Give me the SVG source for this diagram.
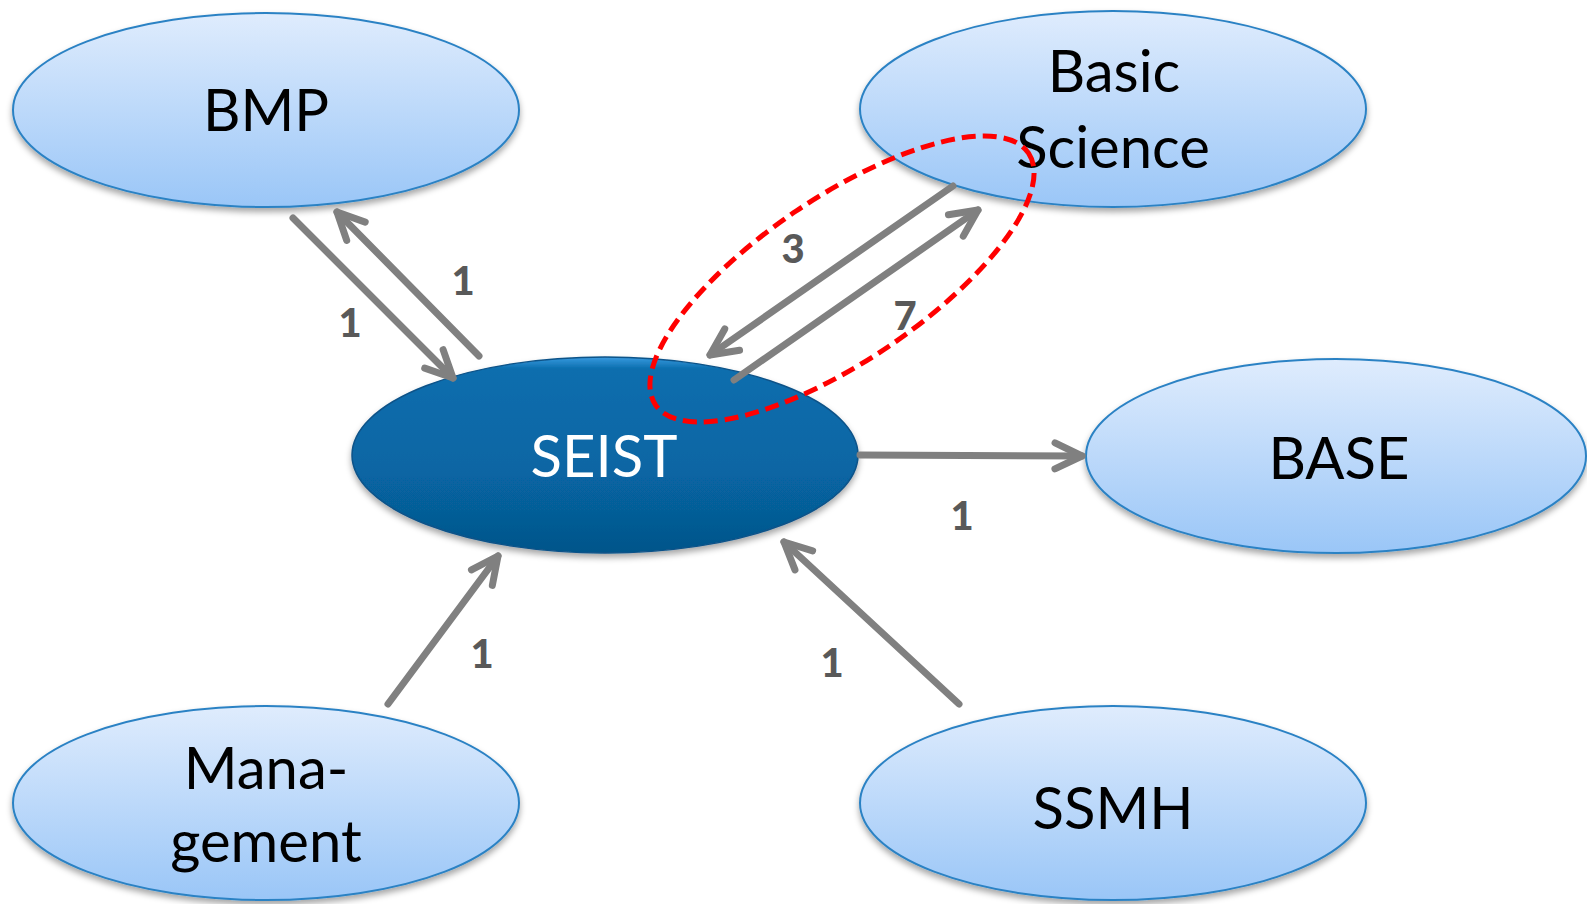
<svg xmlns="http://www.w3.org/2000/svg" width="1587" height="904" viewBox="0 0 1587 904">
<style>
.node{stroke:#2C82C4;stroke-width:2;fill:url(#light)}
.lbl{font-family:Lato,"Liberation Sans",sans-serif;font-size:58px;fill:#000;text-anchor:middle}
.num{font-family:Lato,"Liberation Sans",sans-serif;font-size:40px;font-weight:900;fill:#595959;text-anchor:middle}
.arr{stroke:#808080;stroke-width:7;fill:none;stroke-linecap:round;marker-end:url(#head)}
</style>
<defs>
<linearGradient id="light" x1="0" y1="0" x2="0" y2="1">
<stop offset="0" stop-color="#DFECFD"/>
<stop offset="1" stop-color="#9AC6F7"/>
</linearGradient>
<linearGradient id="dark" x1="0" y1="0" x2="0" y2="1">
<stop offset="0" stop-color="#3A9BE0"/>
<stop offset="0.06" stop-color="#0B6EAE"/>
<stop offset="0.6" stop-color="#0765A3"/>
<stop offset="1" stop-color="#05558A"/>
</linearGradient>
<filter id="sh" x="-10%" y="-10%" width="120%" height="130%">
<feDropShadow dx="0" dy="4" stdDeviation="3" flood-color="#000" flood-opacity="0.35"/>
</filter>
<marker id="head" markerUnits="userSpaceOnUse" viewBox="-40 -25 50 50" refX="0" refY="0" markerWidth="50" markerHeight="50" orient="auto" overflow="visible">
<path d="M-27 -13 L0 0 L-27 13" fill="none" stroke="#808080" stroke-width="7" stroke-linecap="round" stroke-linejoin="round"/>
</marker>
</defs>
<rect width="1587" height="904" fill="#fff"/>
<g id="bmp">
<ellipse class="node" cx="266" cy="110" rx="253" ry="97" filter="url(#sh)"/>
<text class="lbl" x="266" y="131">BMP</text>
</g>
<g id="basic-science">
<ellipse class="node" cx="1113" cy="109" rx="253" ry="98" filter="url(#sh)"/>
<text class="lbl" x="1114" y="92">Basic</text>
<text class="lbl" x="1113" y="168">Science</text>
</g>
<g id="seist">
<ellipse cx="605" cy="455" rx="253" ry="98" fill="url(#dark)" stroke="#0A5288" stroke-width="1.5" filter="url(#sh)"/>
<text class="lbl" x="604" y="477" style="fill:#fff">SEIST</text>
</g>
<g id="base">
<ellipse class="node" cx="1336" cy="456" rx="250" ry="97" filter="url(#sh)"/>
<text class="lbl" x="1339" y="479">BASE</text>
</g>
<g id="management">
<ellipse class="node" cx="266" cy="803" rx="253" ry="97" filter="url(#sh)"/>
<text class="lbl" x="266" y="789">Mana-</text>
<text class="lbl" x="266" y="862">gement</text>
</g>
<g id="ssmh">
<ellipse class="node" cx="1113" cy="803" rx="253" ry="97" filter="url(#sh)"/>
<text class="lbl" x="1113" y="829">SSMH</text>
</g>
<g id="connectors">
<line class="arr" x1="293" y1="218" x2="453" y2="378"/>
<line class="arr" x1="479" y1="356" x2="337" y2="212"/>
<line class="arr" x1="953" y1="186" x2="710" y2="355"/>
<line class="arr" x1="734" y1="380" x2="978" y2="210"/>
<line class="arr" x1="860" y1="455" x2="1082" y2="456"/>
<line class="arr" x1="388" y1="704" x2="498" y2="556"/>
<line class="arr" x1="959" y1="704" x2="784" y2="542"/>
<text class="num" x="350" y="337">1</text>
<text class="num" x="463" y="295">1</text>
<text class="num" x="793" y="263">3</text>
<text class="num" x="905" y="330">7</text>
<text class="num" x="962" y="530">1</text>
<text class="num" x="482" y="668">1</text>
<text class="num" x="832" y="677">1</text>
</g>
<g id="highlight">
<ellipse cx="842" cy="279" rx="225" ry="82" transform="rotate(-34 842 279)" fill="none" stroke="#FF0000" stroke-width="5" stroke-dasharray="14 7"/>
</g>
</svg>
